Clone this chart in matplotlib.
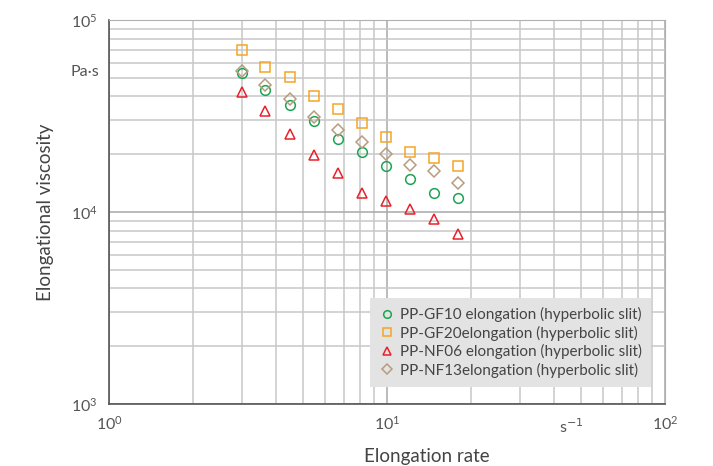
import numpy as np
import matplotlib
matplotlib.use("Agg")
from matplotlib import pyplot as plt
from matplotlib.ticker import LogLocator, NullFormatter

plt.rcParams['font.family'] = ['Lato', 'DejaVu Sans']

rate = [3.0, 3.64, 4.48, 5.46, 6.66, 8.13, 9.92, 12.1, 14.8, 18.0]
gf10 = [53200, 43200, 35900, 29900, 24100, 20500, 17400, 14900, 12600, 11800]
gf20 = [69800, 57200, 50300, 40200, 34400, 29100, 24600, 20600, 19100, 17400]
nf06 = [42200, 33600, 25600, 19900, 15900, 12500, 11400, 10400, 9200, 7700]
nf13 = [54500, 46000, 38800, 31300, 26800, 23200, 20000, 17500, 16400, 14200]

labels = ["PP-GF10 elongation (hyperbolic slit)",
          "PP-GF20elongation (hyperbolic slit)",
          "PP-NF06 elongation (hyperbolic slit)",
          "PP-NF13elongation (hyperbolic slit)"]

fig = plt.figure(figsize=(7.13, 4.66), dpi=100)
ax = fig.add_axes([109/713, 1-404/466, (665-109)/713, (404-20)/466])

ax.plot(rate, gf10, 'o', mfc='none', mec='#1aa552', ms=7, mew=1.1, label=labels[0])
ax.plot(rate, gf20, 's', mfc='none', mec='#f5a623', ms=7, mew=1.1, label=labels[1])
ax.plot(rate, nf06, '^', mfc='none', mec='#e8202a', ms=7, mew=1.1, label=labels[2])
ax.plot(rate, nf13, 'D', mfc='none', mec='#b89c80', ms=6, mew=1.1, label=labels[3])

ax.set_xscale('log')
ax.set_yscale('log')
ax.set_xlim(1, 100)
ax.set_ylim(1000, 100000)

for a in (ax.xaxis, ax.yaxis):
    a.set_major_locator(LogLocator(base=10))
    a.set_minor_locator(LogLocator(base=10, subs=np.arange(2, 10)))
    a.set_minor_formatter(NullFormatter())
ax.grid(True, which='major', color='#a8a8a8', lw=1.1)
ax.grid(True, which='minor', color='#c8c8c8', lw=1.1)
ax.set_axisbelow(True)
ax.tick_params(which='both', length=0, labelsize=11.5, colors='#555555', pad=8)

for s in ('top', 'right'):
    ax.spines[s].set_color('#b0b0b0')
for s in ('left', 'bottom'):
    ax.spines[s].set_color('#555555')
    ax.spines[s].set_linewidth(1.2)

ax.set_xlabel("Elongation rate", fontsize=13.5, color='#444444')
ax.xaxis.set_label_coords(0.572, -0.115)
ax.set_ylabel("Elongational viscosity", fontsize=13.5, color='#444444', labelpad=12)

ax.text(-0.018, 53600, "Pa·s", transform=ax.get_yaxis_transform(), ha='right', va='center',
        fontsize=11.5, color='#555555')
ax.text(46, -0.035, "s$^{-1}$", transform=ax.get_xaxis_transform(), ha='center', va='top',
        fontsize=11.5, color='#555555')

leg = ax.legend(loc='lower right', bbox_to_anchor=(0.988, 0.025), fontsize=11.0,
                frameon=True, fancybox=False, handletextpad=0.35, handlelength=1.0,
                borderpad=0.6, labelspacing=0.22)
leg.get_frame().set_facecolor('#e3e3e3')
leg.get_frame().set_edgecolor('none')
leg.get_frame().set_alpha(1)
for t in leg.get_texts():
    t.set_color('#444444')
for h in leg.legend_handles:
    h.set_markersize(5.5)

fig.savefig("out.png", dpi=100)
